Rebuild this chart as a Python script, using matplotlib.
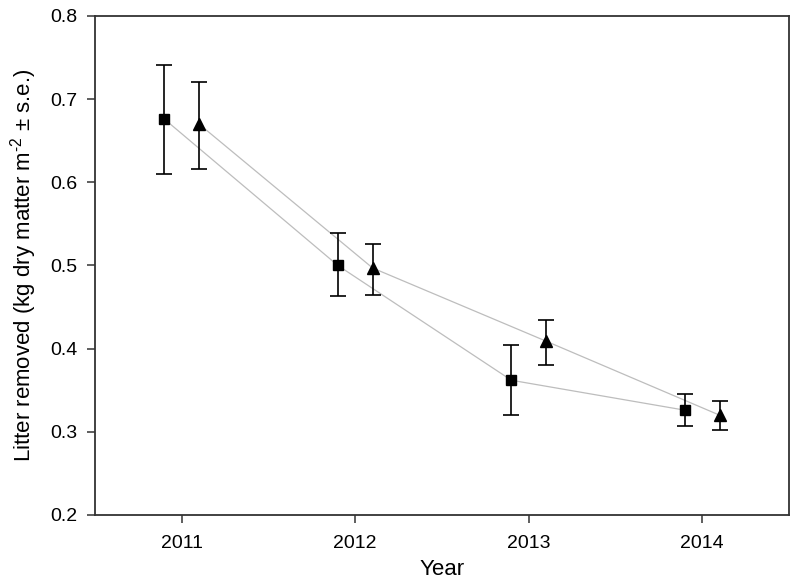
import numpy as np
import matplotlib
matplotlib.use('Agg')
import matplotlib.pyplot as plt

plt.rcParams['font.family'] = ['Liberation Sans', 'DejaVu Sans']
plt.rcParams['mathtext.fontset'] = 'custom'
plt.rcParams['mathtext.rm'] = 'Liberation Sans'
plt.rcParams['mathtext.it'] = 'Liberation Sans'

# Data
years = [2011, 2012, 2013, 2014]
sq_mean = [0.676, 0.500, 0.362, 0.326]
sq_upper = [0.741, 0.539, 0.404, 0.346]
sq_lower = [0.610, 0.463, 0.320, 0.307]
tri_mean = [0.670, 0.497, 0.409, 0.320]
tri_upper = [0.721, 0.526, 0.434, 0.337]
tri_lower = [0.616, 0.465, 0.380, 0.302]

offset = 0.1
x = np.array(years, dtype=float)
sq_mean = np.array(sq_mean)
tri_mean = np.array(tri_mean)
sq_err = [sq_mean - np.array(sq_lower), np.array(sq_upper) - sq_mean]
tri_err = [tri_mean - np.array(tri_lower), np.array(tri_upper) - tri_mean]

fig = plt.figure(figsize=(8, 5.86), dpi=100)
ax = fig.add_axes([0.11875, 0.1212, 0.8675, 0.8515])

line_col = '#bdbdbd'
ax.plot(x - offset, sq_mean, color=line_col, lw=0.9, zorder=1)
ax.plot(x + offset, tri_mean, color=line_col, lw=0.9, zorder=1)

ax.errorbar(x - offset, sq_mean, yerr=sq_err, fmt='s', color='black',
            ms=7.2, ecolor='black', elinewidth=1.2, capsize=5.8,
            capthick=1.2, zorder=3)
ax.errorbar(x + offset, tri_mean, yerr=tri_err, fmt='^', color='black',
            ms=8.6, ecolor='black', elinewidth=1.2, capsize=5.8,
            capthick=1.2, zorder=3)

ax.set_xlim(2010.5, 2014.5)
ax.set_ylim(0.2, 0.8)
ax.set_xticks(years)
ax.set_xticklabels([str(y) for y in years], fontsize=14)
ax.set_yticks([0.2, 0.3, 0.4, 0.5, 0.6, 0.7, 0.8])
ax.set_yticklabels(['0.2', '0.3', '0.4', '0.5', '0.6', '0.7', '0.8'], fontsize=14)
ax.tick_params(direction='out', length=5.5, width=1.1, color='#333333')
ax.tick_params(axis='x', pad=9)
ax.tick_params(axis='y', pad=7)

for s in ax.spines.values():
    s.set_linewidth(1.3)
    s.set_color('#333333')

ax.set_xlabel('Year', fontsize=16, labelpad=5)
ax.set_ylabel(r'Litter removed (kg dry matter m$^{\text{-2}}$ $\pm$ s.e.)', fontsize=16, labelpad=8)

fig.savefig('out.png', dpi=100)
